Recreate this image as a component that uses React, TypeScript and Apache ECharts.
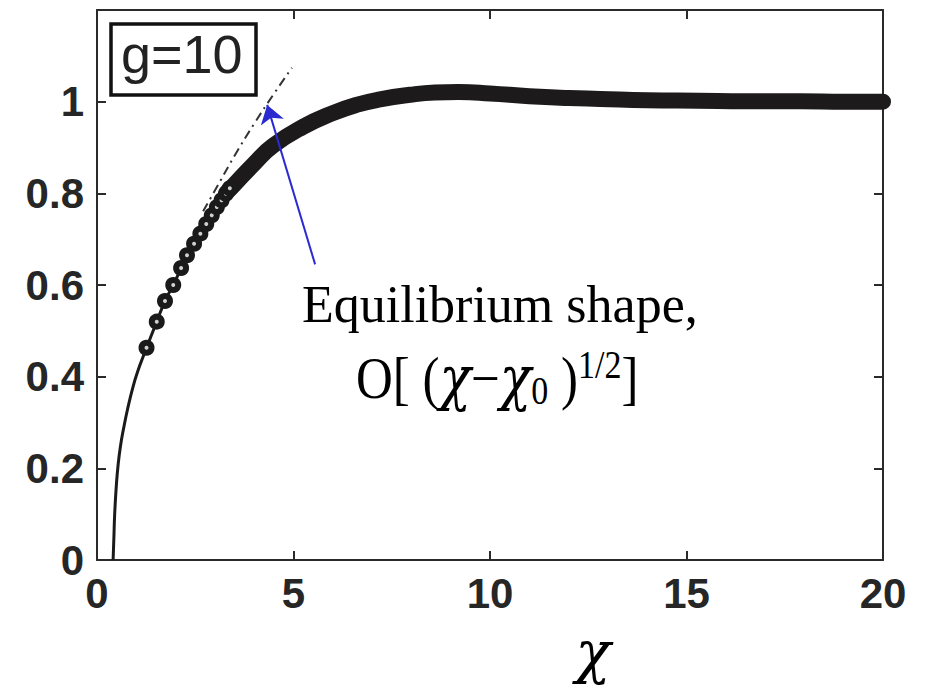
import React, { useEffect, useRef } from "react";
import * as echarts from "echarts";

// x ticks and y ticks
const xTicks = [0, 5, 10, 15, 20];
const yTicks = [0, 0.2, 0.4, 0.6, 0.8, 1];

// thin solid part of the curve (x, y)
const curveThin: number[][] = [
  [0.41, 0], [0.43, 0.05], [0.45, 0.1], [0.49, 0.16], [0.54, 0.21], [0.6, 0.25],
  [0.67, 0.284], [0.78, 0.33], [0.92, 0.379], [1.05, 0.415], [1.18, 0.445],
  [1.26, 0.463], [1.52, 0.52], [1.73, 0.565], [1.94, 0.6], [2.14, 0.637],
  [2.29, 0.665], [2.47, 0.69], [2.63, 0.712], [2.78, 0.733], [2.92, 0.752], [3.05, 0.77],
];

// sparse open circle markers
const markerPts: number[][] = [
  [1.26, 0.463], [1.52, 0.52], [1.73, 0.565], [1.94, 0.6], [2.14, 0.637],
  [2.29, 0.665], [2.47, 0.69], [2.63, 0.712], [2.78, 0.733], [2.92, 0.752],
  [3.05, 0.77], [3.17, 0.785], [3.28, 0.799], [3.38, 0.811],
];

// dense part of the curve (drawn as a thick band)
const curveBand: number[][] = [
  [3.3, 0.802], [3.46, 0.816], [4.0, 0.865], [4.48, 0.904], [5.24, 0.945], [6.0, 0.975],
  [6.6, 0.993], [7.2, 1.005], [7.96, 1.015], [8.6, 1.02], [9.2, 1.021], [10, 1.018],
  [11, 1.012], [12, 1.008], [12.8, 1.006], [14, 1.003], [15.3, 1.002], [16.5, 1.001],
  [17.9, 1.001], [19, 1.0], [20, 1.0],
];

// dash-dot equilibrium-shape curve
const tangentPts: number[][] = [
  [2.7, 0.761], [3.0, 0.806], [3.5, 0.882], [4.0, 0.952], [4.5, 1.017], [4.96, 1.074],
];

// arrow annotation: tail -> tip
const arrowTail = [5.55, 0.645];
const arrowTip = [4.33, 0.993];

const AXIS = "#2a2a2a";
const SERIF = "Liberation Serif, Times New Roman, serif";
const CHI_FONT = "DejaVu Serif, serif";

export default function App() {
  const ref = useRef<HTMLDivElement>(null);
  useEffect(() => {
    if (!ref.current) return;
    const chart = echarts.init(ref.current, undefined, { renderer: "svg" });
    const labelStyle = {
      fontFamily: "Liberation Sans, Arial, sans-serif",
      fontSize: 42,
      fontWeight: "bold" as const,
      color: "#262626",
    };
    const axisLine = { show: true, onZero: false, lineStyle: { color: AXIS, width: 2 } };
    const axisTick = { show: true, inside: true, length: 9, lineStyle: { color: AXIS, width: 2 } };
    chart.setOption({
      animation: false,
      backgroundColor: "#fff",
      grid: { left: 97, right: 47, top: 10, bottom: 127, containLabel: false },
      xAxis: [
        {
          type: "value", min: xTicks[0], max: xTicks[xTicks.length - 1], interval: 5,
          axisLine, axisTick,
          axisLabel: { ...labelStyle, margin: 12 },
          splitLine: { show: false },
        },
        {
          type: "value", position: "top", min: 0, max: 20, interval: 5,
          axisLine, axisTick,
          axisLabel: { show: false },
          splitLine: { show: false },
        },
      ],
      yAxis: [
        {
          type: "value", min: yTicks[0], max: 1.2, interval: 0.2,
          axisLine, axisTick,
          axisLabel: {
            ...labelStyle, margin: 13,
            formatter: (v: number) => (v > 1.1 ? "" : String(Math.round(v * 10) / 10)),
          },
          splitLine: { show: false },
        },
        {
          type: "value", position: "right", min: 0, max: 1.2, interval: 0.2,
          axisLine, axisTick,
          axisLabel: { show: false },
          splitLine: { show: false },
        },
      ],
      series: [
        {
          type: "line", data: tangentPts, showSymbol: false, smooth: true,
          lineStyle: { color: "#333", width: 2, type: [9, 5, 2, 5] }, z: 2,
        },
        {
          type: "line", data: curveThin, showSymbol: false, smooth: true,
          lineStyle: { color: "#1a1a1a", width: 3 }, z: 3,
        },
        {
          type: "line", data: curveBand, showSymbol: false, smooth: true,
          lineStyle: { color: "#1c1a1a", width: 16, cap: "round", join: "round" }, z: 3,
        },
        {
          type: "scatter", data: markerPts, symbol: "circle", symbolSize: 10,
          itemStyle: { color: "#cfcfcf", borderColor: "#1a1a1a", borderWidth: 6, opacity: 1 },
          z: 4,
        },
        {
          type: "lines", coordinateSystem: "cartesian2d",
          data: [{ coords: [arrowTail, arrowTip] }],
          symbol: ["none", "arrow"], symbolSize: [13, 18],
          lineStyle: { color: "#2b2bd0", width: 2, curveness: 0, opacity: 1 },
          z: 6,
        },
      ],
      graphic: [
        {
          type: "rect", z: 10,
          shape: { x: 111, y: 24, width: 145, height: 71 },
          style: { fill: "#fff", stroke: "#111", lineWidth: 3.5 },
        },
        {
          type: "text", z: 11, x: 121, y: 54,
          style: {
            text: "g=10", fontFamily: "Liberation Sans, Arial, sans-serif", fontSize: 54,
            fill: "#222", verticalAlign: "middle", align: "left",
          },
        },
        {
          type: "text", z: 11, x: 302, y: 330,
          style: {
            text: "Equilibrium shape,", fontFamily: SERIF,
            fontSize: 52, fill: "#000", verticalAlign: "bottom", align: "left",
          },
        },
        {
          type: "text", z: 11, x: 356, y: 378, scaleY: 1.15,
          style: {
            text: "{n|O[ (}{i|χ}{n|−}{i|χ}{sub|0}{n| )}{sup|1/2}{n|]}",
            fill: "#000", verticalAlign: "middle", align: "left",
            rich: {
              n: { fontFamily: SERIF, fontSize: 51, fill: "#000" },
              i: { fontFamily: CHI_FONT, fontStyle: "italic", fontSize: 52, fill: "#000" },
              sub: { fontFamily: SERIF, fontSize: 34, fill: "#000", padding: [22, 0, 0, 0] },
              sup: { fontFamily: SERIF, fontSize: 34, fill: "#000", padding: [0, 0, 24, 0] },
            },
          },
        },
        {
          type: "text", z: 11, x: 593, y: 652,
          style: {
            text: "χ", fontFamily: CHI_FONT, fontStyle: "italic",
            fontSize: 58, lineHeight: 60, fill: "#000", verticalAlign: "middle", align: "center",
          },
        },
      ],
    });
    return () => chart.dispose();
  }, []);
  return <div ref={ref} style={{ width: 930, height: 687, position: "absolute", left: 0, top: 0 }} />;
}
